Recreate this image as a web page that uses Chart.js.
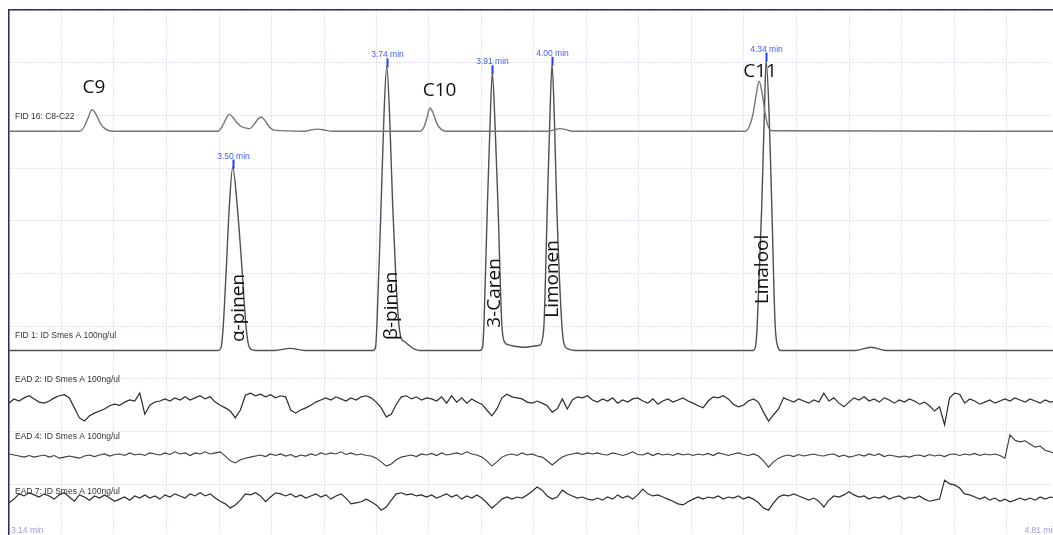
<!DOCTYPE html>
<html>
<head>
<meta charset="utf-8">
<script src="https://cdn.jsdelivr.net/npm/chart.js@4.4.0/dist/chart.umd.min.js"></script>
<style>
  html, body { margin: 0; padding: 0; background: #fff; overflow: hidden; }
  #wrap { position: absolute; left: 0; top: 0; width: 1070px; height: 545px; }
</style>
</head>
<body>
<div id="wrap"><canvas id="chart"></canvas></div>
<script>
// run window (min)
const timeStart = 3.14;
const timeEnd = 4.81;

// FID 16: alkane standard C8-C22
const fid16Time = [3.1400, 3.2529, 3.2593, 3.2657, 3.2720, 3.2784, 3.2847, 3.2927, 3.3038,
  3.4724, 3.4804, 3.4852, 3.4904, 3.4963, 3.5027, 3.5106, 3.5170, 3.5233, 3.5297, 3.5361, 3.5408, 3.5472, 3.5536, 3.5615,
  3.6108, 3.6220, 3.6315, 3.6426, 3.6538,
  3.7937, 3.8001, 3.8049, 3.8096, 3.8144, 3.8208, 3.8271, 3.8351,
  3.9973, 4.0053, 4.0164, 4.0260, 4.0355,
  4.3107, 4.3170, 4.3234, 4.3282, 4.3330, 4.3377, 4.3425, 4.3473, 4.3536,
  4.8100];
const fid16Signal = [0, 0, 0.8, 2.5, 4.1, 3.2, 1.6, 0.5, 0,
  0, 1.2, 2.4, 3.2, 2.6, 1.6, 0.8, 0.6, 0.5, 1.3, 2.3, 2.7, 2.0, 0.9, 0.2,
  0, 0.3, 0.4, 0.2, 0,
  0, 0.8, 2.6, 4.4, 3.5, 1.4, 0.4, 0,
  0, 0.2, 0.5, 0.3, 0,
  0, 0.8, 3.3, 6.8, 9.5, 7.3, 3.5, 1.0, 0.1,
  0];

// FID 1: ID Smes A 100ng/ul
const fid1Time = [3.1400, 3.4724, 3.4772, 3.4804, 3.4852, 3.4904, 3.4958, 3.5031, 3.5111, 3.5165, 3.5202, 3.5249, 3.5329,
  3.5631, 3.5870, 3.6108,
  3.7190, 3.7230, 3.7253, 3.7317, 3.7365, 3.7408, 3.7452, 3.7503, 3.7556, 3.7599, 3.7635, 3.7699, 3.7778, 3.7858, 3.7937,
  3.8892, 3.8931, 3.8955, 3.9008, 3.9051, 3.9087, 3.9130, 3.9178, 3.9237, 3.9273, 3.9337, 3.9448, 3.9560, 3.9687, 3.9782, 3.9846,
  3.9889, 3.9910, 3.9962, 4.0002, 4.0037, 4.0074, 4.0112, 4.0191, 4.0228, 4.0292, 4.0403,
  4.3234, 4.3274, 4.3302, 4.3372, 4.3414, 4.3442, 4.3489, 4.3532, 4.3584, 4.3624, 4.3679,
  4.4856, 4.5111, 4.5350, 4.8100];
const fid1Signal = [0, 0, 0.5, 4.0, 14.6, 27.3, 34.7, 27.3, 14.6, 5.2, 1.5, 0.2, 0,
  0, 0.4, 0,
  0, 0.6, 5.2, 27.3, 45, 53.9, 45, 27.3, 13, 5.2, 2.4, 1.6, 0.8, 0.2, 0,
  0, 0.6, 5.2, 27.3, 43, 52.6, 43, 27.3, 5.2, 1.8, 1.1, 0.8, 0.6, 0.7, 0.9, 1.0,
  2.5, 5.2, 27.3, 44, 54.2, 44, 27.3, 5.2, 1.2, 0.3, 0,
  0, 0.8, 5.2, 27.3, 45, 55.0, 45, 27.3, 5.2, 0.8, 0,
  0, 0.6, 0, 0];

// EAD channels, sampled every eadStep min from timeStart
const eadStep = 0.008;
const ead2Signal = [
  -0.6, 0.2, -0.2, 0.4, 0.8, 0.2, -0.4, -0.6, -0.2, 0.4, 0.8, 1.0, 0.4, -1.5, -3.4, -4.0, -3.0, -2.5, -2.1, -1.7,
  -1.1, -0.8, -1.0, -0.4, 0, -0.2, 1.3, -2.7, -1.0, -0.4, -0.2, 0.2, -0.2, 0.4, 0, 0.6, 0, 0.4, 0.8, 0.2,
  0.6, -0.4, -1.0, -1.5, -2.1, -3.4, -1.9, 0.9, 1.3, 0.8, 1.1, 0.6, 1.0, 0.4, 0.8, 0.6, -1.9, -2.5, -1.9, -1.5,
  -1.0, -0.4, 0, 0.4, 0, 0.6, 0.2, -0.2, 0.4, 0, 0.6, 0.8, 0.4, -0.4, -1.5, -3.2, -2.7, -0.8, 0.6, 0.8,
  0.2, 0.6, 0, 0.4, 0.2, -0.2, 0.6, -0.6, 0.8, -0.4, 0.4, -0.6, 0.2, -0.4, -0.8, -1.9, -3.0, -1.7, 0.4, 1.1,
  0.6, 0.4, 0.2, -0.4, -0.6, -0.2, -0.6, -1.1, -2.3, -1.7, 0.2, -1.7, 0, 0.6, 0.4, 0.8, 0, -0.4, 0.2, -0.2,
  0.4, -0.6, 0, -0.4, 0.2, 0.4, -0.2, -0.6, 0.2, -0.8, -0.2, 0.2, -0.4, 0, 0.4, -0.2, -0.6, -1.1, -1.5, -0.2,
  0.6, 0.4, 0.8, 0.2, -0.8, -1.3, -1.0, -0.2, 0.2, -0.4, -2.3, -4.0, -2.8, -1.7, 0.4, 0, -0.4, 0.2, -0.2, -0.6,
  0, -0.4, 1.3, -0.2, 0.4, -0.6, -1.3, -0.4, 0.4, 0, 0.6, -0.2, 0.2, -0.4, 0.4, 0, -0.6, 0, -0.4, 0.2,
  -0.2, -0.8, -0.4, -1.1, -2.1, -1.3, -4.7, 0.4, 1.3, 1.1, -0.6, 0.2, -0.2, -0.8, -0.4, 0, -0.6, -0.2, 0.2, -0.2,
  0.4, 0, -0.4, 0.2, -0.2, -0.6, 0, -0.4, -0.2];
const ead4Signal = [
  0.2, 0, -0.2, -0.4, -0.1, -0.4, -0.2, 0, -0.4, -0.1, -0.6, -0.4, -0.2, -0.4, -0.6, -0.2, 0, -0.3, 0, 0.2,
  -0.2, 0.1, 0.2, -0.1, 0.4, 0, 0.2, -0.1, 0.4, 0.2, 0, 0.4, 0.1, 0.6, 0.2, 0.4, -0.1, 0.4, 0.2, 0.6,
  0.2, 0.4, 0.6, -0.2, -1.1, -1.5, -0.9, -0.6, -0.4, -0.2, 0, -0.3, 0.2, -0.1, 0.2, -0.2, 0.1, -0.4, 0, -0.2,
  0.2, -0.1, 0.4, 0.1, 0.4, 0.2, 0.6, 0.1, 0.4, 0, 0.2, -0.1, -0.2, -0.6, -1.3, -2.1, -1.7, -0.9, -0.4, -0.2,
  0, -0.3, 0.2, 0, 0.3, -0.1, 0.4, 0, 0.2, 0.4, 0.1, 0.6, 0.2, 0, -0.4, -1.1, -2.1, -1.3, -0.4, 0,
  0.2, -0.1, 0.4, 0, 0.2, -0.2, -0.4, -1.1, -1.9, -1.1, -0.4, 0, 0.2, 0.4, 0.1, 0.4, 0.2, 0.4, 0.1, 0,
  0.4, 0.2, -0.1, 0.2, 0.6, 0.1, 0, 0.4, -0.1, 0.3, 0, 0.2, -0.1, 0.3, 0, 0.2, -0.1, 0.2, 0, 0.3,
  -0.1, 0.4, 0.2, -0.1, 0.2, 0.4, 0.1, -0.1, 0.2, -0.2, -1.1, -2.3, -1.3, -0.6, -0.2, 0, -0.3, 0.1, -0.2, 0,
  0.2, -0.1, -0.2, 0.1, 0.2, -0.3, 0, -0.4, -0.2, 0.1, -0.2, 0.2, -0.1, 0.2, -0.3, 0, -0.2, -0.4, -0.2, -0.4,
  -0.1, 0, -0.3, 0.1, -0.2, 0, -0.3, 0.1, 0.2, -0.1, 0.2, 0, 0.3, -0.1, 0.2, 0, 0.2, -0.1, -0.6, 3.8,
  2.8, 2.5, 2.7, 2.1, 1.5, 1.7, 0.9, 0.6, 0.2];
const ead7Signal = [
  -1.1, -0.4, 0.6, 0.2, 0.8, 0.4, 0, 0.6, 0.2, -0.4, 0.4, 0.8, 0, -0.8, 0.4, 0, -0.6, 0.2, -0.2, 0.4,
  -0.2, -0.8, -0.4, 0, -0.6, 0.2, -0.2, 0.4, -0.2, 0.2, -0.4, 0.4, 0, 0.6, 0.2, -0.2, 0.6, 0.2, 0.8, 0.2,
  0.6, -0.2, -0.8, -1.3, -2.1, -1.5, -0.6, 0.6, 0.4, 0.8, 0.2, -0.9, 0, 0.8, 0.6, 0.2, 0.6, 0, 0.4, -0.2,
  0.2, 0.6, 0, 0.4, -0.4, 0.2, 0.6, -0.2, -1.3, -1.1, -0.9, -0.4, -0.9, -1.5, -2.5, -1.9, -0.6, 0.6, 0.8, 0.4,
  0.6, 0.2, 0.4, 0, 0.4, -0.2, 0.2, 0.6, 0, 0.4, -0.4, 0.2, -0.2, 0.4, -0.2, -1.1, -2.1, -1.3, -0.4, 0,
  -0.4, 0, -0.2, 0.4, 1.1, 1.9, 1.3, 0.2, -0.4, 0, 1.3, 0.6, 0.2, -0.2, 0, -0.4, -0.6, -0.2, -0.6, 0,
  -0.4, 0.4, -0.2, 0.2, -0.4, 0.4, 1.5, 0.6, 0.2, 0.4, 0, -0.4, -0.8, -1.3, -1.5, -0.9, -0.4, 0, -0.4, 0,
  -0.2, 0.2, -0.4, 0, -0.2, 0.2, -0.4, 0, -0.4, -1.1, -2.1, -2.5, -1.1, 0, 0.4, 0.2, 0.6, 0.2, -0.2, -0.6,
  -0.2, -0.8, -1.9, -0.6, 0.2, 0, 0.4, 1.0, 0.4, 0, 0.2, -0.4, 0, -0.2, 0.2, -0.4, 0, 0.2, -0.4, 0,
  -0.2, 0.2, -0.4, -0.8, -0.6, -0.4, 3.2, 2.5, 2.3, 1.7, 0.6, 0.4, 0, -0.4, 0, -0.6, -0.2, -0.8, -0.4, -0.9,
  -0.6, -0.2, -0.6, -0.2, -0.6, 0, -0.4, 0, -0.2];

const traceNames = ['FID 16: C8-C22', 'FID 1: ID Smes A 100ng/ul', 'EAD 2: ID Smes A 100ng/ul',
  'EAD 4: ID Smes A 100ng/ul', 'EAD 7: ID Smes A 100ng/ul'];
const compoundNames = ['α-pinen', 'β-pinen', '3-Caren', 'Limonen', 'Linalool'];
const compoundTimes = [3.4958, 3.7408, 3.9087, 4.0037, 4.3442];
const alkaneNames = ['C9', 'C10', 'C11'];

// stacking: baseline level of each trace and where its name sits
const traceBase = [77.0, 35.4, 26.0, 15.56, 7.59];
const traceNameLevel = [79.75, 38.3, 29.9, 19.0, 8.6];
const traceColors = ['#747474', '#505050', '#2c2c2c', '#3c3c3c', '#2c2c2c'];
const traceWidths = [1.4, 1.4, 1.2, 1.1, 1.2];
// label anchors: [time, level]
const compoundLabelAt = [[3.5050, 37.0], [3.7492, 37.4], [3.9130, 39.7], [4.0053, 41.6], [4.3393, 44.2]];
const alkaneLabelAt = [[3.2752, 84.25], [3.8248, 83.7], [4.3345, 87.2]];

function pairs(times, values, base) {
  return times.map((t, i) => ({ x: t, y: base + values[i] }));
}
function sampled(values, base) {
  return values.map((v, i) => ({ x: timeStart + i * eadStep, y: base + v }));
}

const series = [
  pairs(fid16Time, fid16Signal, traceBase[0]),
  pairs(fid1Time, fid1Signal, traceBase[1]),
  sampled(ead2Signal, traceBase[2]),
  sampled(ead4Signal, traceBase[3]),
  sampled(ead7Signal, traceBase[4]),
];

const labels = {
  id: 'labels',
  afterDatasetsDraw(chart) {
    const { ctx, chartArea, scales: { x, y } } = chart;
    ctx.save();

    // channel names
    ctx.font = '8.5px "Liberation Sans", sans-serif';
    ctx.fillStyle = '#333';
    ctx.textAlign = 'left';
    ctx.textBaseline = 'middle';
    traceNames.forEach((name, i) => {
      ctx.fillText(name, chartArea.left + 6, y.getPixelForValue(traceNameLevel[i]));
    });

    // retention time markers on FID 1
    compoundTimes.forEach((t) => {
      let k = 0;
      fid1Time.forEach((ft, i) => { if (Math.abs(ft - t) < Math.abs(fid1Time[k] - t)) k = i; });
      const px = Math.round(x.getPixelForValue(t)) + 0.5;
      const py = y.getPixelForValue(traceBase[1] + fid1Signal[k]);
      ctx.strokeStyle = '#1f3cff';
      ctx.lineWidth = 2;
      ctx.beginPath();
      ctx.moveTo(px, py + 1);
      ctx.lineTo(px, py - 8);
      ctx.stroke();
      ctx.fillStyle = '#3f5fff';
      ctx.textAlign = 'center';
      ctx.textBaseline = 'bottom';
      ctx.fillText(t.toFixed(2) + ' min', px, py - 7);
    });

    // compound names, written upwards
    ctx.font = '19px "Open Sans", sans-serif';
    ctx.fillStyle = '#111';
    compoundNames.forEach((name, i) => {
      const [t, v] = compoundLabelAt[i];
      ctx.save();
      ctx.translate(x.getPixelForValue(t), y.getPixelForValue(v));
      ctx.rotate(-Math.PI / 2);
      ctx.textAlign = 'left';
      ctx.textBaseline = 'middle';
      ctx.fillText(name, 0, 0);
      ctx.restore();
    });

    // alkane names
    ctx.textAlign = 'center';
    ctx.textBaseline = 'alphabetic';
    alkaneNames.forEach((name, i) => {
      const [t, v] = alkaneLabelAt[i];
      ctx.fillText(name, x.getPixelForValue(t), y.getPixelForValue(v));
    });

    // time range
    ctx.font = '8.5px "Liberation Sans", sans-serif';
    ctx.fillStyle = '#9c9ce4';
    ctx.textBaseline = 'middle';
    ctx.textAlign = 'left';
    ctx.fillText(timeStart.toFixed(2) + ' min', chartArea.left + 2, chartArea.bottom - 6);
    ctx.textAlign = 'right';
    ctx.fillText(timeEnd.toFixed(2) + ' min', chartArea.right - 2, chartArea.bottom - 6);

    ctx.restore();
  }
};

new Chart(document.getElementById('chart'), {
  type: 'line',
  data: {
    datasets: series.map((data, i) => ({
      data,
      borderColor: traceColors[i],
      borderWidth: traceWidths[i],
      pointRadius: 0,
      fill: false,
      cubicInterpolationMode: i < 2 ? 'monotone' : 'default',
      tension: 0,
    })),
  },
  options: {
    responsive: true,
    maintainAspectRatio: false,
    animation: false,
    events: [],
    layout: { padding: { left: 9, top: 10, right: 11, bottom: 8 } },
    plugins: { legend: { display: false }, tooltip: { enabled: false } },
    scales: {
      x: {
        type: 'linear',
        position: 'top',
        min: timeStart,
        max: timeEnd,
        afterBuildTicks(scale) {
          const ticks = [];
          for (let k = 0; k <= 20; k++) ticks.push({ value: timeStart + k * (timeEnd - timeStart) / 20 });
          scale.ticks = ticks;
        },
        ticks: { display: false },
        grid: { color: '#c6c6ee', lineWidth: 1, drawTicks: false },
        border: { display: true, color: '#2c2c5c', width: 1.5, dash: [1, 2] },
      },
      y: {
        type: 'linear',
        position: 'left',
        min: 0,
        max: 100,
        ticks: { display: false, stepSize: 10 },
        grid: { color: '#c6c6ee', lineWidth: 1, drawTicks: false },
        border: { display: true, color: '#2c2c5c', width: 1.5, dash: [1, 2] },
      },
    },
  },
  plugins: [labels],
});
</script>
</body>
</html>
